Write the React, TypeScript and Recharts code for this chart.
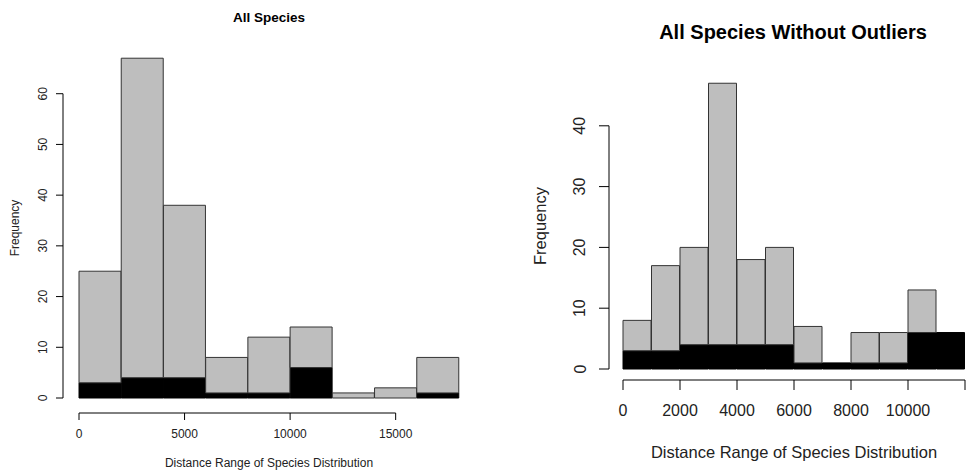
import { Bar, BarChart, ReferenceLine, XAxis, YAxis } from "recharts";

// left histogram: all species, bins of 2000
const allBins = [1000, 3000, 5000, 7000, 9000, 11000, 13000, 15000, 17000];
const allTotal = [25, 67, 38, 8, 12, 14, 1, 2, 8];
const allBlack = [3, 4, 4, 1, 1, 6, 0, 0, 1];
const allXTicks = [0, 5000, 10000, 15000];
const allYTicks = [0, 10, 20, 30, 40, 50, 60];

// right histogram: without outliers, bins of 1000
const trimBins = [500, 1500, 2500, 3500, 4500, 5500, 6500, 7500, 8500, 9500, 10500, 11500];
const trimTotal = [8, 17, 20, 47, 18, 20, 7, 1, 6, 6, 13, 6];
const trimBlack = [3, 3, 4, 4, 4, 4, 1, 1, 1, 1, 6, 6];
const trimXTicks = [0, 2000, 4000, 6000, 8000, 10000, 12000];
const trimXLabels = ["0", "2000", "4000", "6000", "8000", "10000", ""];
const trimYTicks = [0, 10, 20, 30, 40];

const FONT = "'Liberation Sans', Arial, sans-serif";
const GRAY = "#bebebe";
const EDGE = "#333";

function buildRows(bins: number[], total: number[], black: number[]) {
	return bins.map((mid, i) => ({
		mid,
		black: black[i],
		rest: total[i] - black[i],
	}));
}

interface HistProps {
	rows: { mid: number; black: number; rest: number }[];
	width: number;
	height: number;
	top: number;
	right: number;
	left: number;
	bottom: number;
	xDomain: [number, number];
	yDomain: [number, number];
	xTicks: number[];
	xLabels?: string[];
	yTicks: number[];
	fontSize: number;
	xGap: number;
	yGap: number;
	tickLen: number;
	xLabelDy: number;
	yLabelDx: number;
}

function Histogram(p: HistProps) {
	const xEnd = p.xTicks[p.xTicks.length - 1];
	const yEnd = p.yTicks[p.yTicks.length - 1];

	const XTick = (props: any) => {
		const { x, y, payload, index } = props;
		const label = p.xLabels ? p.xLabels[index] : String(payload.value);
		return (
			<g>
				<line x1={x} x2={x} y1={y + p.xGap} y2={y + p.xGap + p.tickLen} stroke="#000" />
				<text
					x={x}
					y={y + p.xLabelDy}
					textAnchor="middle"
					fontSize={p.fontSize}
					fontFamily={FONT}
					fill="#222"
				>
					{label}
				</text>
			</g>
		);
	};

	const YTick = (props: any) => {
		const { x, y, payload } = props;
		const lx = x - p.yLabelDx;
		return (
			<g>
				<line x1={x - p.yGap} x2={x - p.yGap - p.tickLen} y1={y} y2={y} stroke="#000" />
				<text
					x={lx}
					y={y}
					textAnchor="middle"
					dominantBaseline="central"
					transform={`rotate(-90 ${lx} ${y})`}
					fontSize={p.fontSize}
					fontFamily={FONT}
					fill="#222"
				>
					{payload.value}
				</text>
			</g>
		);
	};

	return (
		<BarChart
			width={p.width}
			height={p.height}
			data={p.rows}
			margin={{ top: p.top, right: p.right, bottom: 0, left: 0 }}
			barCategoryGap={0}
			barGap={0}
		>
			<XAxis
				dataKey="mid"
				type="number"
				domain={p.xDomain}
				ticks={p.xTicks}
				interval={0}
				axisLine={false}
				tickLine={false}
				tickSize={0}
				tickMargin={0}
				height={p.bottom}
				tick={<XTick />}
			/>
			<YAxis
				type="number"
				domain={p.yDomain}
				ticks={p.yTicks}
				interval={0}
				axisLine={false}
				tickLine={false}
				tickSize={0}
				tickMargin={0}
				width={p.left}
				tick={<YTick />}
			/>
			<Bar
				dataKey="black"
				stackId="h"
				fill="#000"
				stroke="#000"
				isAnimationActive={false}
			/>
			<Bar
				dataKey="rest"
				stackId="h"
				fill={GRAY}
				stroke={EDGE}
				isAnimationActive={false}
			/>
			<ReferenceLine
				segment={[
					{ x: 0, y: 0 },
					{ x: xEnd, y: 0 },
				]}
				ifOverflow="visible"
				shape={(s: any) => (
					<line
						x1={s.x1}
						x2={s.x2}
						y1={s.y1 + p.xGap}
						y2={s.y2 + p.xGap}
						stroke="#000"
					/>
				)}
			/>
			<ReferenceLine
				segment={[
					{ x: 0, y: 0 },
					{ x: 0, y: yEnd },
				]}
				ifOverflow="visible"
				shape={(s: any) => (
					<line
						x1={s.x1 - p.yGap}
						x2={s.x2 - p.yGap}
						y1={s.y1}
						y2={s.y2}
						stroke="#000"
					/>
				)}
			/>
		</BarChart>
	);
}

const textBase: React.CSSProperties = {
	position: "absolute",
	fontFamily: FONT,
	color: "#222",
	whiteSpace: "nowrap",
	transform: "translate(-50%, -50%)",
};

export default function App() {
	const allRows = buildRows(allBins, allTotal, allBlack);
	const trimRows = buildRows(trimBins, trimTotal, trimBlack);

	return (
		<div
			style={{
				position: "absolute",
				left: 0,
				top: 0,
				width: 967,
				height: 470,
				background: "#fff",
				overflow: "hidden",
			}}
		>
			<div style={{ position: "absolute", left: 0, top: 0 }}>
				<Histogram
					rows={allRows}
					width={480}
					height={470}
					top={43}
					right={21}
					left={79}
					bottom={72}
					xDomain={[0, 18000]}
					yDomain={[0, 70]}
					xTicks={allXTicks}
					yTicks={allYTicks}
					fontSize={12}
					xGap={15}
					yGap={16}
					tickLen={7}
					xLabelDy={40}
					yLabelDx={36}
				/>
			</div>
			<div style={{ position: "absolute", left: 490, top: 0 }}>
				<Histogram
					rows={trimRows}
					width={477}
					height={470}
					top={65}
					right={2}
					left={133}
					bottom={101}
					xDomain={[0, 12000]}
					yDomain={[0, 50]}
					xTicks={trimXTicks}
					xLabels={trimXLabels}
					yTicks={trimYTicks}
					fontSize={16}
					xGap={11}
					yGap={14}
					tickLen={10}
					xLabelDy={47}
					yLabelDx={43}
				/>
			</div>

			<div style={{ ...textBase, left: 269, top: 17, fontSize: 13.5, fontWeight: "bold", color: "#000" }}>
				All Species
			</div>
			<div style={{ ...textBase, left: 269, top: 463, fontSize: 12 }}>
				Distance Range of Species Distribution
			</div>
			<div
				style={{
					...textBase,
					left: 15,
					top: 228,
					fontSize: 12,
					transform: "translate(-50%, -50%) rotate(-90deg)",
				}}
			>
				Frequency
			</div>

			<div style={{ ...textBase, left: 793, top: 32, fontSize: 20, fontWeight: "bold", color: "#000" }}>
				All Species Without Outliers
			</div>
			<div style={{ ...textBase, left: 794, top: 452, fontSize: 16.5 }}>
				Distance Range of Species Distribution
			</div>
			<div
				style={{
					...textBase,
					left: 540,
					top: 226,
					fontSize: 16.5,
					transform: "translate(-50%, -50%) rotate(-90deg)",
				}}
			>
				Frequency
			</div>
		</div>
	);
}
